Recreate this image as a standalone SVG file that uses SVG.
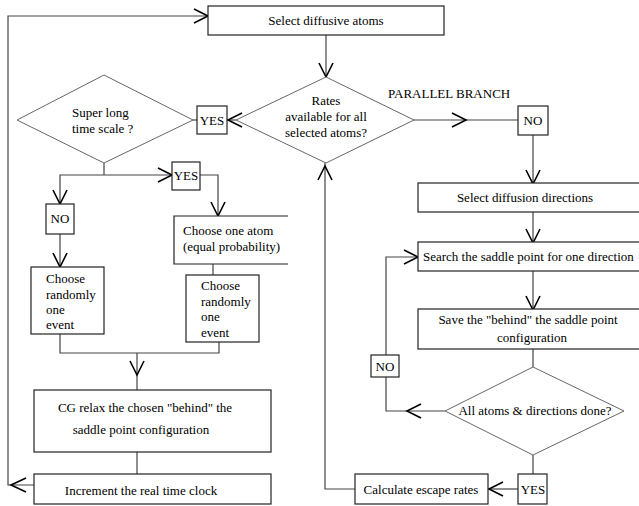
<svg xmlns="http://www.w3.org/2000/svg" width="639" height="506" viewBox="0 0 639 506">
<style>
  .box{fill:#fff;stroke:#222;stroke-width:1.2}
  .dia{fill:#fff;stroke:#666;stroke-width:1}
  .ln{fill:none;stroke:#444;stroke-width:1.2}
  .ah{fill:none;stroke:#000;stroke-width:1.6}
  text{font-family:"Liberation Serif","Times New Roman",serif;font-size:13px;fill:#000}
  .c{text-anchor:middle}
</style>
<rect width="639" height="506" fill="#fff"/>
<g id="connectors">
  <!-- outer loop -->
  <path class="ln" d="M34,485 H8 V16 H208"/>
  <path class="ah" d="M194,9 L208,16 L194,23"/>
  <path class="ah" d="M26,478 L11,485 L26,492"/>
  <!-- top box to diamond -->
  <path class="ln" d="M326,35 V77"/>
  <path class="ah" d="M319,63 L326,77 L333,63"/>
  <!-- diamond to YES left -->
  <path class="ln" d="M236,120 H227"/>
  <path class="ah" d="M242,113 L228,120 L242,127"/>
  <!-- diamond to NO right -->
  <path class="ln" d="M414,120 H518"/>
  <path class="ah" d="M452,113 L466,120 L452,127"/>
  <!-- YES to super long diamond -->
  <path class="ln" d="M197,120 H193"/>
  <!-- NO down to select directions -->
  <path class="ln" d="M533,135 V183"/>
  <path class="ah" d="M526,170 L533,184 L540,170"/>
  <path class="ln" d="M533,212 V242"/>
  <path class="ah" d="M526,229 L533,243 L540,229"/>
  <path class="ln" d="M533,271 V309"/>
  <path class="ah" d="M526,296 L533,310 L540,296"/>
  <path class="ln" d="M533,349 V367"/>
  <!-- NO loop -->
  <path class="ln" d="M445,411 H386 V377"/>
  <path class="ah" d="M421,404 L407,411 L421,418"/>
  <path class="ln" d="M386,355 V257 H418"/>
  <path class="ah" d="M404,250 L418,257 L404,264"/>
  <!-- diamond2 to YES -->
  <path class="ln" d="M533,455 V474"/>
  <path class="ln" d="M518,489 H488"/>
  <path class="ah" d="M503,482 L489,489 L503,496"/>
  <!-- calculate back up -->
  <path class="ln" d="M355,489 H325 V163"/>
  <path class="ah" d="M318,180 L325,166 L332,180"/>
  <!-- super long branches -->
  <path class="ln" d="M104,163 V175"/>
  <path class="ln" d="M60,204 V175 H172"/>
  <path class="ah" d="M158,168 L172,175 L158,182"/>
  <path class="ah" d="M53,190 L60,204 L67,190"/>
  <path class="ln" d="M200,175 H218 V216"/>
  <path class="ah" d="M211,202 L218,216 L225,202"/>
  <path class="ln" d="M60,234 V267"/>
  <path class="ah" d="M53,253 L60,267 L67,253"/>
  <path class="ln" d="M213,264 V275"/>
  <!-- merge -->
  <path class="ln" d="M60,334 V353 H219 V342"/>
  <path class="ln" d="M137,353 V390"/>
  <path class="ah" d="M130,361 L137,375 L144,361"/>
  <path class="ln" d="M137,452 V474"/>
</g>
<g id="n-select-atoms">
  <rect class="box" x="208" y="6" width="236" height="29"/>
  <text class="c" x="326" y="25">Select diffusive atoms</text>
</g>
<g id="n-rates-diamond">
  <polygon class="dia" points="326,77 414,120 326,163 236,120"/>
  <text class="c" x="326" y="105">Rates</text>
  <text class="c" x="326" y="121">available for all</text>
  <text class="c" x="326" y="137">selected atoms?</text>
</g>
<g id="n-parallel-label">
  <text x="388" y="98">PARALLEL BRANCH</text>
</g>
<g id="n-no1">
  <rect class="box" x="518" y="106" width="30" height="29"/>
  <text class="c" x="533" y="125">NO</text>
</g>
<g id="n-yes1">
  <rect class="box" x="197" y="106" width="30" height="28"/>
  <text class="c" x="212" y="125">YES</text>
</g>
<g id="n-superlong">
  <polygon class="dia" points="104,75 193,120 104,163 17,120"/>
  <text x="72" y="117">Super long</text>
  <text x="72" y="133">time scale ?</text>
</g>
<g id="n-yes2">
  <rect class="box" x="172" y="162" width="28" height="28"/>
  <text class="c" x="186" y="180">YES</text>
</g>
<g id="n-no2">
  <rect class="box" x="46" y="204" width="28" height="30"/>
  <text class="c" x="60" y="223">NO</text>
</g>
<g id="n-choose-atom">
  <path class="box" d="M288,216 H174 V264 H288"/>
  <text x="183" y="235">Choose one atom</text>
  <text x="183" y="251">(equal probability)</text>
</g>
<g id="n-random-left">
  <rect class="box" x="31" y="267" width="73" height="67"/>
  <text x="46" y="283">Choose</text>
  <text x="46" y="299">randomly</text>
  <text x="46" y="314">one</text>
  <text x="46" y="329">event</text>
</g>
<g id="n-random-right">
  <rect class="box" x="186" y="275" width="73" height="67"/>
  <text x="201" y="290">Choose</text>
  <text x="201" y="306">randomly</text>
  <text x="201" y="321">one</text>
  <text x="201" y="337">event</text>
</g>
<g id="n-cg">
  <rect class="box" x="34" y="390" width="237" height="62"/>
  <text class="c" x="145" y="412">CG relax the chosen "behind" the</text>
  <text class="c" x="141" y="434">saddle point configuration</text>
</g>
<g id="n-increment">
  <rect class="box" x="34" y="474" width="237" height="30"/>
  <text class="c" x="141" y="495">Increment the real time clock</text>
</g>
<g id="n-select-dirs">
  <rect class="box" x="418" y="183" width="230" height="29"/>
  <text class="c" x="525" y="202">Select diffusion directions</text>
</g>
<g id="n-search">
  <rect class="box" x="418" y="242" width="230" height="29"/>
  <text x="423" y="261">Search the saddle point for one direction</text>
</g>
<g id="n-save">
  <rect class="box" x="418" y="309" width="230" height="40"/>
  <text class="c" x="528" y="324">Save the "behind" the saddle point</text>
  <text class="c" x="532" y="342">configuration</text>
</g>
<g id="n-alldone">
  <polygon class="dia" points="533,367 624,411 533,455 445,411"/>
  <text class="c" x="535" y="415">All atoms &amp; directions done?</text>
</g>
<g id="n-no3">
  <rect class="box" x="371" y="355" width="28" height="22"/>
  <text class="c" x="385" y="371">NO</text>
</g>
<g id="n-yes3">
  <rect class="box" x="518" y="474" width="29" height="30"/>
  <text class="c" x="533" y="494">YES</text>
</g>
<g id="n-calc">
  <rect class="box" x="355" y="474" width="133" height="30"/>
  <text class="c" x="421" y="494">Calculate escape rates</text>
</g>
</svg>
